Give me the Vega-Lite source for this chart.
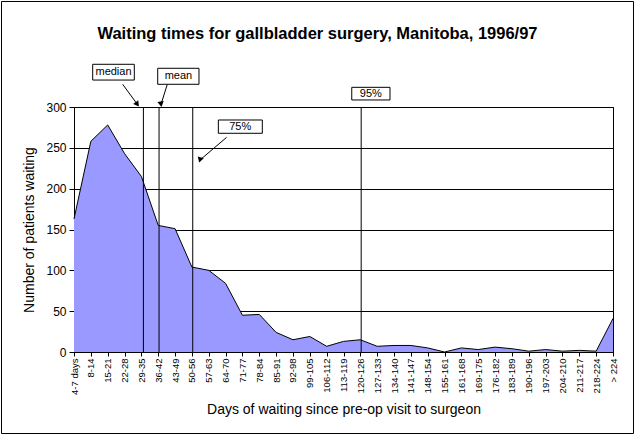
{
  "$schema": "https://vega.github.io/schema/vega-lite/v6.json",
  "width": 539,
  "height": 245,
  "autosize": {"type": "none"},
  "padding": {"left": 74, "top": 107, "right": 22, "bottom": 83},
  "background": "white",
  "title": {
    "text": "Waiting times for gallbladder surgery, Manitoba, 1996/97",
    "font": "Liberation Sans",
    "fontSize": 16.5,
    "fontWeight": "bold",
    "color": "black",
    "anchor": "middle",
    "frame": "group",
    "dx": -26,
    "offset": -42
  },
  "config": {
    "view": {"stroke": "black", "strokeWidth": 1},
    "font": "Liberation Sans"
  },
  "datasets": {
    "waits": [
      {"days": "4-7 days", "patients": 163},
      {"days": "8-14", "patients": 258},
      {"days": "15-21", "patients": 278},
      {"days": "22-28", "patients": 243},
      {"days": "29-35", "patients": 215},
      {"days": "36-42", "patients": 155},
      {"days": "43-49", "patients": 151},
      {"days": "50-56", "patients": 104},
      {"days": "57-63", "patients": 100},
      {"days": "64-70", "patients": 84},
      {"days": "71-77", "patients": 45},
      {"days": "78-84", "patients": 46},
      {"days": "85-91", "patients": 24},
      {"days": "92-98", "patients": 15},
      {"days": "99-105", "patients": 19},
      {"days": "106-112", "patients": 7},
      {"days": "113-119", "patients": 13},
      {"days": "120-126", "patients": 15},
      {"days": "127-133", "patients": 7},
      {"days": "134-140", "patients": 8},
      {"days": "141-147", "patients": 8},
      {"days": "148-154", "patients": 5},
      {"days": "155-161", "patients": 0},
      {"days": "161-168", "patients": 5},
      {"days": "169-175", "patients": 3},
      {"days": "176-182", "patients": 6},
      {"days": "183-189", "patients": 4},
      {"days": "190-196", "patients": 1},
      {"days": "197-203", "patients": 3},
      {"days": "204-210", "patients": 1},
      {"days": "211-217", "patients": 2},
      {"days": "218-224", "patients": 1},
      {"days": "> 224", "patients": 41}
    ],
    "markers": [
      {"stat": "median", "position": 4.12},
      {"stat": "mean", "position": 5.05},
      {"stat": "75%", "position": 7.05},
      {"stat": "95%", "position": 17.05}
    ],
    "labels": [
      {"label": "median", "x": 2.345, "y": 342.5, "x1": 1.11, "x2": 3.58, "y1": 352.3, "y2": 333.0},
      {"label": "mean", "x": 6.2, "y": 337.6, "x1": 4.97, "x2": 7.42, "y1": 347.4, "y2": 327.8},
      {"label": "75%", "x": 9.87, "y": 275.9, "x1": 8.57, "x2": 11.18, "y1": 284.1, "y2": 267.8},
      {"label": "95%", "x": 17.62, "y": 316.3, "x1": 16.49, "x2": 18.76, "y1": 324.1, "y2": 308.6}
    ],
    "arrows": [
      {"label": "median", "x": 2.89, "y": 327.8, "x2": 3.76, "y2": 303.3},
      {"label": "mean", "x": 5.54, "y": 327.8, "x2": 5.165, "y2": 303.3},
      {"label": "75%", "x": 9.06, "y": 262.8, "x2": 7.48, "y2": 235.1}
    ]
  },
  "layer": [
    {
      "data": {"name": "waits"},
      "mark": {"type": "area", "color": "#9999FF", "opacity": 1, "line": {"color": "black", "strokeWidth": 1}},
      "encoding": {
        "x": {
          "field": "days",
          "type": "ordinal",
          "sort": null,
          "scale": {"type": "point", "padding": 0},
          "axis": {
            "labelAngle": -90,
            "labelFontSize": 9.5,
            "labelColor": "black",
            "labelPadding": 2,
            "tickColor": "black",
            "tickSize": 4,
            "domainColor": "black",
            "grid": false,
            "title": "Days of waiting since pre-op visit to surgeon",
            "titleFontSize": 14,
            "titleFontWeight": "normal",
            "titleColor": "black",
            "titlePadding": 8
          }
        },
        "y": {
          "field": "patients",
          "type": "quantitative",
          "scale": {"domain": [0, 300], "nice": false},
          "axis": {
            "values": [0, 50, 100, 150, 200, 250, 300],
            "grid": true,
            "gridColor": "black",
            "gridOpacity": 1,
            "domainColor": "black",
            "tickColor": "black",
            "tickSize": 5,
            "labelFontSize": 12,
            "labelColor": "black",
            "labelPadding": 3,
            "title": "Number of patients waiting",
            "titleFontSize": 14,
            "titleFontWeight": "normal",
            "titleColor": "black",
            "titlePadding": 9
          }
        }
      }
    },
    {
      "layer": [
        {
          "data": {"name": "markers"},
          "mark": {"type": "rule", "color": "black", "strokeWidth": 1},
          "encoding": {
            "x": {"field": "position", "type": "quantitative", "scale": {"domain": [0, 32], "nice": false, "zero": false}, "axis": null},
            "y": {"datum": 0},
            "y2": {"datum": 300}
          }
        },
        {
          "data": {"name": "arrows"},
          "mark": {"type": "rule", "color": "black", "strokeWidth": 1},
          "encoding": {
            "x": {"field": "x", "type": "quantitative"},
            "x2": {"field": "x2"},
            "y": {"field": "y", "type": "quantitative"},
            "y2": {"field": "y2"}
          }
        },
        {
          "data": {"name": "arrows"},
          "mark": {"type": "point", "shape": "triangle-down", "filled": true, "color": "black", "size": 40, "opacity": 1},
          "encoding": {
            "x": {"field": "x2", "type": "quantitative"},
            "y": {"field": "y2", "type": "quantitative"},
            "angle": {"field": "label", "type": "nominal", "scale": {"domain": ["median", "mean", "75%"], "range": [-36, 17.5, 49.6]}, "legend": null}
          }
        },
        {
          "data": {"name": "labels"},
          "mark": {"type": "rect", "fill": "white", "stroke": "black", "strokeWidth": 1},
          "encoding": {
            "x": {"field": "x1", "type": "quantitative"},
            "x2": {"field": "x2"},
            "y": {"field": "y1", "type": "quantitative"},
            "y2": {"field": "y2"}
          }
        },
        {
          "data": {"name": "labels"},
          "mark": {"type": "text", "fontSize": 11, "color": "black", "align": "center", "baseline": "middle"},
          "encoding": {
            "x": {"field": "x", "type": "quantitative"},
            "y": {"field": "y", "type": "quantitative"},
            "text": {"field": "label"}
          }
        },
        {
          "data": {"values": [{}]},
          "mark": {"type": "rect", "fill": null, "fillOpacity": 0, "stroke": "black", "strokeWidth": 1},
          "encoding": {
            "x": {"datum": -4.304},
            "x2": {"datum": 33.217},
            "y": {"datum": 429.2},
            "y2": {"datum": -99.8}
          }
        }
      ]
    }
  ],
  "resolve": {"scale": {"x": "independent"}}
}
